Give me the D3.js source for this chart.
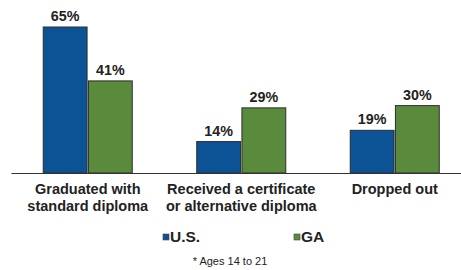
<!DOCTYPE html>
<html>
<head>
<meta charset="utf-8">
<script src="https://cdn.jsdelivr.net/npm/d3@7"></script>
<style>
	html, body { margin: 0; padding: 0; background: #fff; }
	svg { display: block; font-family: Arial, 'Liberation Sans', sans-serif; }
</style>
</head>
<body>
<div id="chart"></div>
<script>
var categories = [
	['Graduated with', 'standard diploma'],
	['Received a certificate', 'or alternative diploma'],
	['Dropped out']
];
var seriesNames = ['U.S.', 'GA'];
var usValues = [65, 14, 19];
var gaValues = [41, 29, 30];
var footnote = '* Ages 14 to 21';

// chart init
function initChart() {
	var width = 461;
	var height = 270;
	var baseline = 173;
	var colors = ['#0b5394', '#5a8a3c'];
	var series = [usValues, gaValues];

	var svg = d3.select('#chart')
		.append('svg')
		.attr('width', width)
		.attr('height', height);

	var x0 = d3.scaleBand()
		.domain(d3.range(categories.length))
		.range([11, 471.5])
		.paddingInner(0.42)
		.paddingOuter(0.21);

	var x1 = d3.scaleBand()
		.domain(d3.range(seriesNames.length))
		.range([0, x0.bandwidth()])
		.paddingInner(0.03);

	var y = d3.scaleLinear()
		.domain([0, 65])
		.range([baseline, 27]);

	var groups = svg.selectAll('.group')
		.data(categories)
		.enter()
		.append('g')
		.attr('class', 'group')
		.attr('transform', function(d, i) {
			return 'translate(' + x0(i) + ',0)';
		});

	groups.each(function(cat, ci) {
		var g = d3.select(this);

		series.forEach(function(vals, si) {
			g.append('rect')
				.attr('x', x1(si))
				.attr('y', y(vals[ci]))
				.attr('width', x1.bandwidth())
				.attr('height', baseline - y(vals[ci]))
				.attr('fill', colors[si])
				.attr('stroke', '#2e2e2e')
				.attr('stroke-width', 1);

			g.append('text')
				.attr('x', x1(si) + x1.bandwidth() / 2)
				.attr('y', y(vals[ci]) - 6)
				.attr('text-anchor', 'middle')
				.attr('font-size', 14.3)
				.attr('font-weight', 'bold')
				.attr('fill', '#222')
				.text(vals[ci] + '%');
		});
	});

	// x axis
	var xAxis = svg.append('g')
		.attr('transform', 'translate(0,' + baseline + ')')
		.call(d3.axisBottom(x0).tickSize(0).tickFormat(''));

	xAxis.select('.domain')
		.attr('stroke', '#333')
		.attr('stroke-width', 1.2);

	// category labels
	groups.each(function(cat, ci) {
		var t = d3.select(this).append('text')
			.attr('text-anchor', 'middle')
			.attr('font-size', 14.5)
			.attr('font-weight', 'bold')
			.attr('fill', '#222');

		cat.forEach(function(line, li) {
			t.append('tspan')
				.attr('x', x0.bandwidth() / 2)
				.attr('y', 193.5 + li * 17.5)
				.text(line);
		});
	});

	// legend
	var legendX = [163, 294];
	var legend = svg.selectAll('.legend')
		.data(seriesNames)
		.enter()
		.append('g')
		.attr('class', 'legend')
		.attr('transform', function(d, i) {
			return 'translate(' + legendX[i] + ',234)';
		});

	legend.append('rect')
		.attr('width', 6)
		.attr('height', 6)
		.attr('fill', function(d, i) {
			return colors[i];
		})
		.attr('stroke', '#444')
		.attr('stroke-width', 0.6);

	legend.append('text')
		.attr('x', 7)
		.attr('y', 7.8)
		.attr('font-size', 15.5)
		.attr('font-weight', 'bold')
		.attr('fill', '#222')
		.text(function(d) {
			return d;
		});

	svg.append('text')
		.attr('x', 230)
		.attr('y', 265)
		.attr('text-anchor', 'middle')
		.attr('font-size', 11)
		.attr('fill', '#222')
		.text(footnote);
}

initChart();
</script>
</body>
</html>
